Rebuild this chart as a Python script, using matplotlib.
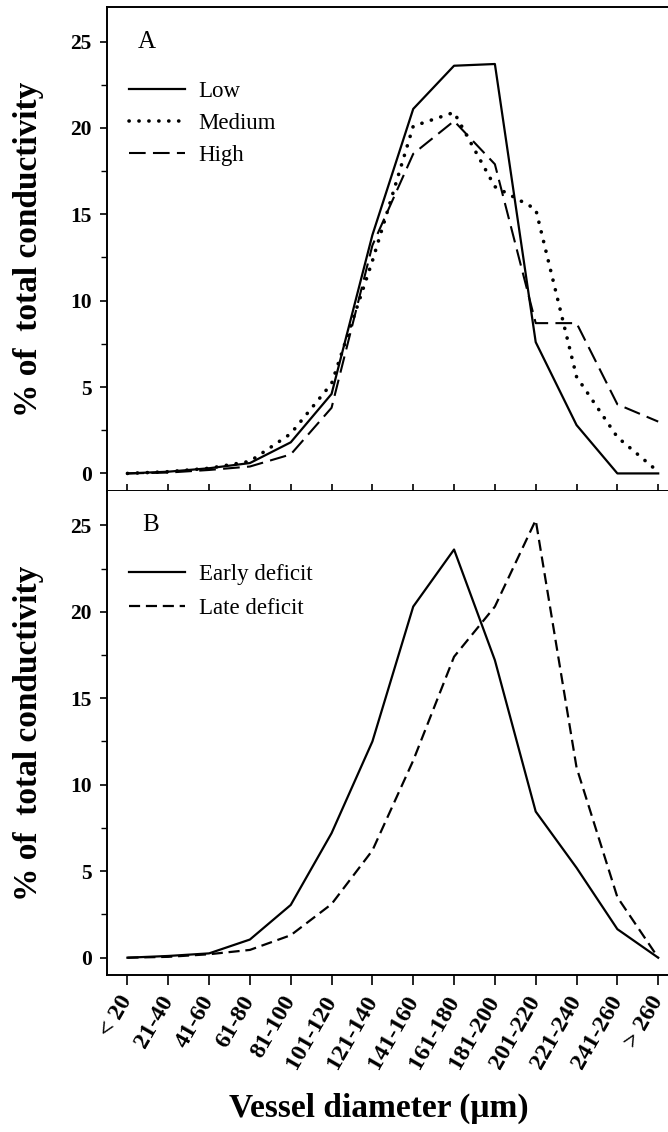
import matplotlib.pyplot as plt
from matplotlib.ticker import MultipleLocator

# --- Datos ---
diameter_classes = ['< 20', '21-40', '41-60', '61-80', '81-100', '101-120', '121-140',
                    '141-160', '161-180', '181-200', '201-220', '221-240', '241-260', '> 260']

# Panel A: intensidad del deficit
low = [0.0, 0.1, 0.3, 0.6, 1.8, 4.6, 13.8, 21.1, 23.6, 23.7, 7.6, 2.8, 0.0, 0.0]
medium = [0.0, 0.1, 0.3, 0.7, 2.3, 5.2, 12.3, 20.1, 20.9, 16.6, 15.3, 5.6, 2.1, 0.1]
high = [0.0, 0.05, 0.2, 0.4, 1.1, 3.8, 13.2, 18.5, 20.4, 17.9, 8.7, 8.7, 4.0, 3.0]

# Panel B: momento del deficit
early = [0.0, 0.1, 0.25, 1.05, 3.05, 7.2, 12.5, 20.3, 23.6, 17.2, 8.45, 5.2, 1.65, 0.0]
late = [0.0, 0.05, 0.2, 0.45, 1.3, 3.1, 6.2, 11.4, 17.4, 20.3, 25.3, 11.0, 3.5, 0.0]

SERIF = 'Liberation Serif'
plt.rcParams['font.family'] = SERIF

x = list(range(len(diameter_classes)))

fig = plt.figure(figsize=(6.68, 11.32), dpi=100)
W, H = 668.0, 1132.0
left = 107 / W
axA = fig.add_axes([left, 1 - 490.7 / H, 1 - left, (490.7 - 7) / H])
axB = fig.add_axes([left, 1 - 975 / H, 1 - left, (975 - 490.7) / H])


def style_axis(ax):
    ax.set_xlim(-0.5, 13.24)
    ax.set_ylim(-1, 27)
    ax.yaxis.set_major_locator(MultipleLocator(5))
    ax.yaxis.set_minor_locator(MultipleLocator(2.5))
    ax.spines['right'].set_visible(False)
    for s in ax.spines.values():
        s.set_linewidth(1.4)
    ax.tick_params(axis='y', which='major', direction='out', length=5, width=1.2,
                   pad=6, labelsize=15.5)
    ax.tick_params(axis='y', which='minor', direction='out', length=4, width=1.0)
    for lab in ax.get_yticklabels():
        lab.set_fontweight('bold')
    ax.set_xticks(x)


# --- Panel A ---
style_axis(axA)
axA.plot(x, low, color='black', lw=1.6, label='Low')
axA.plot(x, medium, color='black', lw=2.6, linestyle=(0, (0.05, 2.7)),
         dash_capstyle='round', label='Medium')
axA.plot(x, high, color='black', lw=1.5, linestyle=(0, (8, 3.5)), label='High')
axA.tick_params(axis='x', direction='in', length=5, width=1.2, labelbottom=False)
axA.text(0.055, 25, 'A', transform=axA.get_yaxis_transform(), fontsize=18,
         ha='left', va='center')
axA.legend(loc='upper left', bbox_to_anchor=(0.039, 0.848), frameon=False,
           borderpad=0, borderaxespad=0, handlelength=2.45, handletextpad=0.6,
           labelspacing=0.48, prop={'family': SERIF, 'size': 16.5})

# --- Panel B ---
style_axis(axB)
axB.plot(x, early, color='black', lw=1.6, label='Early deficit')
axB.plot(x, late, color='black', lw=1.6, linestyle=(0, (5, 2.6)), label='Late deficit')
axB.spines['top'].set_visible(False)
axB.tick_params(axis='x', direction='out', length=7, width=1.2, pad=9)
axB.set_xticklabels(diameter_classes, rotation=60, ha='right', va='center',
                    rotation_mode='anchor', fontsize=17.5, fontweight='bold')
axB.text(0.062, 25, 'B', transform=axB.get_yaxis_transform(), fontsize=18,
         ha='left', va='center')
axB.legend(loc='upper left', bbox_to_anchor=(0.039, 0.848), frameon=False,
           borderpad=0, borderaxespad=0, handlelength=2.45, handletextpad=0.6,
           labelspacing=0.55, prop={'family': SERIF, 'size': 16.5})

# --- Etiquetas de ejes ---
for yc in [(7 + 490.7) / 2, (490.7 + 975) / 2]:
    fig.text(29 / W, 1 - yc / H, '% of  total conductivity', rotation=90,
             ha='center', va='center', fontsize=24, fontweight='bold')
fig.text(379 / W, 1 - 1108 / H, 'Vessel diameter (μm)', ha='center', va='center',
         fontsize=24, fontweight='bold')

fig.savefig('out.png', dpi=100)
